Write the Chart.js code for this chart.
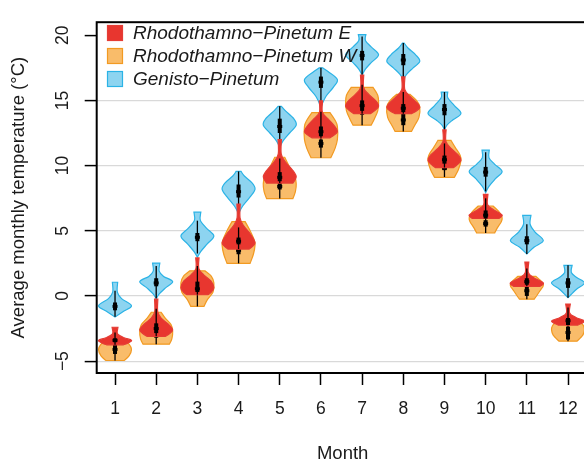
<!DOCTYPE html>
<html><head><meta charset="utf-8">
<script src="https://cdn.jsdelivr.net/npm/chart.js@4/dist/chart.umd.min.js"></script>
<style>html,body{margin:0;padding:0;overflow:hidden;background:#fff;width:584px;height:464px}</style>
</head><body>
<canvas id="c" width="600" height="464" style="width:600px;height:464px;display:block"></canvas>
<script>
// ---------- data ----------
const months = [1,2,3,4,5,6,7,8,9,10,11,12];
const yTickValues = [-5,0,5,10,15,20];
const gridValues = [-5,0,5,10,15];
const seriesNames = ['Rhodothamno\u2212Pinetum E','Rhodothamno\u2212Pinetum W','Genisto\u2212Pinetum'];

// density outlines per month: [temperature, relative density] from top to bottom
const shapeE = [
 [[-2.4,.18],[-2.9,.15],[-3.2,.55],[-3.4,1],[-3.6,.8],[-3.75,.5]],
 [[-0.25,.1],[-1.2,.09],[-1.7,.3],[-2.15,.72],[-2.6,1],[-2.9,.8],[-3.1,.55]],
 [[2.92,.1],[2.1,.09],[1.6,.4],[1.15,.82],[0.65,1],[0.3,.85],[0.1,.65]],
 [[7.05,.1],[6.0,.09],[5.4,.3],[4.75,.72],[4.1,1],[3.8,.85],[3.6,.65]],
 [[12.0,.1],[10.9,.09],[10.3,.33],[9.7,.75],[9.15,1],[8.66,.8]],
 [[14.97,.1],[14.1,.09],[13.6,.42],[13.0,.85],[12.6,1],[12.35,.8],[12.13,.55]],
 [[16.95,.1],[16.0,.09],[15.5,.38],[14.95,.85],[14.55,1],[14.2,.75],[13.98,.5]],
 [[16.8,.1],[15.85,.09],[15.3,.42],[14.8,.85],[14.45,1],[14.15,.75],[13.98,.5]],
 [[12.74,.1],[11.85,.09],[11.3,.42],[10.8,.85],[10.4,1],[10.1,.8],[9.85,.55]],
 [[7.8,.14],[7.0,.12],[6.6,.5],[6.2,1],[5.94,.8]],
 [[2.6,.12],[1.8,.09],[1.4,.42],[1.0,1],[0.74,.8]],
 [[-0.62,.14],[-1.3,.1],[-1.65,.48],[-1.93,1],[-2.23,.6]]
];
const shapeW = [
 [[-3.3,.5],[-3.7,.85],[-4.1,1],[-4.6,.85],[-4.95,.55]],
 [[-1.25,.3],[-1.7,.55],[-2.2,.9],[-2.7,1],[-3.3,.95],[-3.7,.8]],
 [[1.93,.45],[1.5,.85],[1.0,1],[0.3,.95],[-0.3,.6],[-0.8,.4]],
 [[5.7,.4],[5.0,.7],[4.3,.95],[3.9,1],[3.2,.9],[2.5,.7]],
 [[10.64,.3],[10.0,.55],[9.2,.9],[8.6,1],[8.0,.95],[7.47,.8]],
 [[14.06,.55],[13.5,.85],[13.0,1],[12.0,1],[11.3,.85],[10.6,.6]],
 [[16.0,.66],[15.4,.95],[14.8,1],[14.2,.95],[13.6,.75],[13.1,.55]],
 [[15.47,.4],[15.0,.8],[14.5,1],[13.7,.95],[13.1,.7],[12.62,.5]],
 [[11.93,.4],[11.4,.65],[10.8,.95],[10.4,1],[9.7,.85],[9.1,.6]],
 [[6.9,.45],[6.4,.85],[6.0,1],[5.7,.95],[5.2,.7],[4.83,.55]],
 [[1.5,.55],[1.1,.9],[0.8,1],[0.4,.8],[-0.25,.45]],
 [[-2.0,.75],[-2.3,.95],[-2.6,1],[-3.0,.9],[-3.47,.55]]
];
const shapeG = [
 [[1.05,.16],[0.3,.14],[-0.2,.4],[-0.75,1],[-1.2,.5],[-1.6,.02]],
 [[2.52,.22],[1.9,.18],[1.5,.45],[1.1,1],[0.6,.55],[0.1,.15],[-0.25,0]],
 [[6.43,.21],[5.8,.18],[5.2,.55],[4.6,1],[4.0,.6],[3.4,.2],[2.97,0]],
 [[9.55,.15],[9.2,.35],[8.7,.8],[8.2,1],[7.6,.7],[6.9,.25],[6.3,0]],
 [[14.55,.1],[14.2,.35],[13.6,.85],[13.1,1],[12.5,.6],[11.9,.2],[11.4,0]],
 [[17.5,.1],[17.2,.45],[16.6,1],[16.0,.75],[15.3,.3],[14.5,0]],
 [[20.05,.23],[19.6,.2],[19.1,.55],[18.5,1],[17.9,.55],[17.4,.2],[16.95,0]],
 [[19.4,.05],[19.0,.3],[18.5,.75],[18.0,1],[17.5,.6],[17.0,.2],[16.6,0]],
 [[15.64,.2],[15.2,.2],[14.6,.6],[14.0,1],[13.5,.5],[13.1,.15],[12.74,0]],
 [[11.18,.22],[10.6,.2],[10.1,.55],[9.55,1],[9.0,.6],[8.4,.2],[7.92,0]],
 [[6.18,.25],[5.5,.2],[4.9,.5],[4.25,1],[3.75,.45],[3.22,0]],
 [[2.35,.25],[1.8,.2],[1.4,.55],[1.0,1],[0.5,.5],[-0.13,0]]
];
// quartiles and medians
const q1E  = [-3.55,-2.85,0.3,3.96,8.8,12.25,14.2,14.1,10.15,5.94,0.86,-2.23];
const medE = [-3.4,-2.5,0.55,4.2,9.1,12.6,14.6,14.4,10.45,6.2,1.1,-1.9];
const q3E  = [-3.25,-2.1,1.1,4.48,9.5,13.0,15.0,14.72,10.77,6.56,1.36,-1.69];
const q1W  = [-4.45,-3.2,0.1,3.2,8.17,11.38,13.9,13.1,9.65,5.32,0.0,-3.34];
const medW = [-4.1,-2.7,0.6,3.5,8.4,11.7,14.4,13.5,9.8,5.55,0.4,-2.8];
const q3W  = [-3.7,-2.3,1.1,3.72,8.7,12.0,14.8,13.98,10.0,5.81,0.74,-2.35];
const q1G  = [-1.1,0.74,4.2,7.55,12.5,15.96,18.07,17.7,13.86,9.15,3.96,0.62];
const medG = [-0.8,1.0,4.5,8.0,13.0,16.4,18.45,18.1,14.3,9.5,4.25,1.0];
const q3G  = [-0.5,1.36,4.83,8.55,13.6,16.83,18.8,18.56,14.72,9.9,4.58,1.36];

// ---------- styles ----------
const styles = {
  E: {fill:'#E8362F', stroke:'#E53D35'},
  W: {fill:'#F9BC6A', stroke:'#F29A22'},
  G: {fill:'#8DD4F0', stroke:'#2BB3E6'}
};
const series = [
  {key:'G', shapes:shapeG, q1:q1G, med:medG, q3:q3G},
  {key:'W', shapes:shapeW, q1:q1W, med:medW, q3:q3W},
  {key:'E', shapes:shapeE, q1:q1E, med:medE, q3:q3E}
];
const FONT = '"Liberation Sans", Arial, Helvetica, sans-serif';
Chart.defaults.font.family = FONT;
Chart.defaults.color = '#1a1a1a';

function spline(ctx, P){
  for(let i=0;i<P.length-1;i++){
    const p0=P[Math.max(i-1,0)], p1=P[i], p2=P[i+1], p3=P[Math.min(i+2,P.length-1)];
    ctx.bezierCurveTo(p1[0]+(p2[0]-p0[0])/6, p1[1]+(p2[1]-p0[1])/6,
                      p2[0]-(p3[0]-p1[0])/6, p2[1]-(p3[1]-p1[1])/6, p2[0], p2[1]);
  }
}

const violinPlugin = {
  id:'violins',
  afterDatasetsDraw(chart){
    const ctx = chart.ctx, xs = chart.scales.x, ys = chart.scales.y;
    const hw = 0.4*(xs.getPixelForValue(1)-xs.getPixelForValue(0));
    ctx.save();
    series.forEach(s=>{
      const st = styles[s.key];
      months.forEach((m,i)=>{
        const cx = xs.getPixelForValue(m);
        const k = s.shapes[i];
        const R = k.map(([t,w])=>[cx+w*hw, ys.getPixelForValue(t)]);
        const L = k.map(([t,w])=>[cx-w*hw, ys.getPixelForValue(t)]).reverse();
        ctx.beginPath();
        ctx.moveTo(L[L.length-1][0], L[L.length-1][1]);
        ctx.lineTo(R[0][0], R[0][1]);
        spline(ctx, R);
        ctx.lineTo(L[0][0], L[0][1]);
        spline(ctx, L);
        ctx.closePath();
        ctx.fillStyle = st.fill; ctx.fill();
        ctx.lineWidth = 1.2; ctx.strokeStyle = st.stroke; ctx.stroke();
        // box
        const top = k[0][0], bot = k[k.length-1][0];
        const iqr = s.q3[i]-s.q1[i];
        const wHi = Math.min(top, s.q3[i]+1.5*iqr), wLo = Math.max(bot, s.q1[i]-1.5*iqr);
        ctx.strokeStyle = '#000'; ctx.lineWidth = 1.3;
        ctx.beginPath();
        ctx.moveTo(cx, ys.getPixelForValue(wHi)); ctx.lineTo(cx, ys.getPixelForValue(wLo));
        ctx.stroke();
        ctx.fillStyle = '#000';
        const yq3 = ys.getPixelForValue(s.q3[i]), yq1 = ys.getPixelForValue(s.q1[i]);
        ctx.fillRect(cx-2, yq3, 4, yq1-yq3);
        const ym = ys.getPixelForValue(s.med[i]);
        ctx.fillRect(cx-2.5, ym-1.5, 5, 3);
      });
    });
    ctx.restore();
  },
  afterDraw(chart){
    const ctx = chart.ctx, a = chart.chartArea;
    ctx.save();
    ctx.strokeStyle = '#000'; ctx.lineWidth = 2;
    ctx.strokeRect(a.left, a.top, a.right-a.left, a.bottom-a.top);
    // legend
    const keys = ['E','W','G'];
    ctx.font = 'italic 19px ' + FONT;
    ctx.textBaseline = 'middle';
    keys.forEach((k,i)=>{
      const y = 33 + i*23;
      ctx.fillStyle = styles[k].fill; ctx.strokeStyle = styles[k].stroke; ctx.lineWidth = 1.2;
      ctx.fillRect(107.5, y-7.5, 15, 15); ctx.strokeRect(107.5, y-7.5, 15, 15);
      ctx.fillStyle = '#1a1a1a';
      ctx.fillText(seriesNames[i], 133, y+1);
    });
    ctx.restore();
  }
};

new Chart(document.getElementById('c'), {
  type:'scatter',
  data:{
    datasets:[
      {label:seriesNames[0], data:months.map((m,i)=>({x:m,y:medE[i]})), pointRadius:0},
      {label:seriesNames[1], data:months.map((m,i)=>({x:m,y:medW[i]})), pointRadius:0},
      {label:seriesNames[2], data:months.map((m,i)=>({x:m,y:medG[i]})), pointRadius:0}
    ]
  },
  options:{
    responsive:false, animation:false, devicePixelRatio:1,
    layout:{padding:{top:10.7,right:11.4,left:0,bottom:0}},
    plugins:{legend:{display:false}, tooltip:{enabled:false}},
    scales:{
      x:{
        type:'linear', min:0.555, max:12.5,
        afterBuildTicks:s=>{ s.ticks = months.map(v=>({value:v})); },
        afterFit:s=>{ s.height = 91; },
        grid:{display:true, drawOnChartArea:false, drawTicks:true, tickLength:12, tickColor:'#000', tickWidth:1.5},
        border:{display:false},
        ticks:{font:{size:17.5}, color:'#1a1a1a', padding:14, maxRotation:0, autoSkip:false},
        title:{display:true, text:'Month', font:{size:18.5, lineHeight:1}, color:'#1a1a1a', padding:{top:0,bottom:0.5}}
      },
      y:{
        type:'linear', min:-5.91, max:21.0,
        afterBuildTicks:s=>{ s.ticks = yTickValues.map(v=>({value:v})); },
        afterFit:s=>{ s.width = 96.7; },
        grid:{display:true, drawOnChartArea:true, drawTicks:true, tickLength:12,
              color:c=> (c.tick && gridValues.includes(c.tick.value)) ? '#D9D9D9' : 'rgba(0,0,0,0)',
              lineWidth:1.2, tickColor:'#000', tickWidth:1.5},
        border:{display:false},
        ticks:{font:{size:17.5}, color:'#1a1a1a', padding:11.7, minRotation:90, maxRotation:90, crossAlign:'center',
               callback:v=> v<0 ? '\u2212'+Math.abs(v) : String(v)},
        title:{display:true, text:'Average monthly temperature (\u00B0C)', font:{size:18.5, lineHeight:1}, color:'#1a1a1a', padding:{top:9.5,bottom:0}}
      }
    }
  },
  plugins:[violinPlugin]
});
</script>
</body></html>
